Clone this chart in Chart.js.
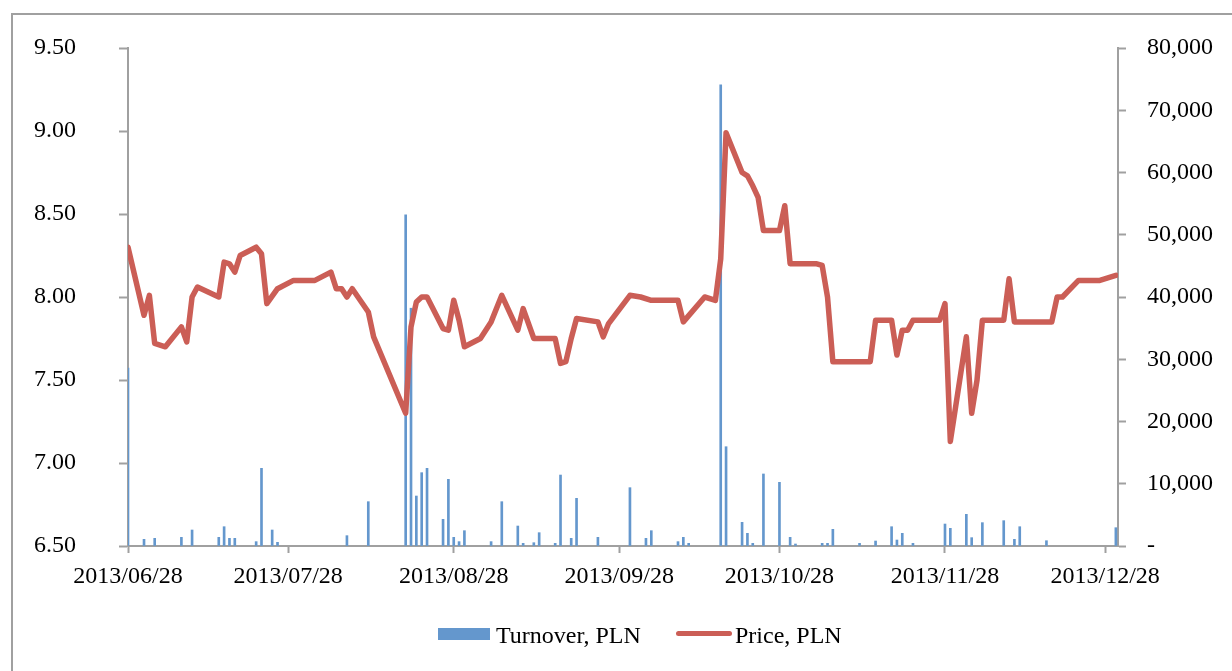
<!DOCTYPE html>
<html>
<head>
<meta charset="utf-8">
<script src="https://cdn.jsdelivr.net/npm/chart.js@4.4.1/dist/chart.umd.min.js"></script>
<style>
  html, body { margin: 0; padding: 0; background: #fff; overflow: hidden; }
  #wrap { position: relative; width: 1232px; height: 671px; }
  #frame { position: absolute; left: 11px; top: 13px; width: 1300px; height: 700px;
           border-left: 2px solid #a0a0a0; border-top: 2px solid #a0a0a0; }
  #chartBox { position: absolute; left: 0; top: 0; width: 1232px; height: 671px; }
  .legend { position: absolute; top: 620px; height: 30px; font: 24px "Liberation Serif", serif;
            color: #000; line-height: 30px; white-space: nowrap; }
  .swatch { position: absolute; }
</style>
</head>
<body>
<div id="wrap">
  <div id="frame"></div>
  <div id="chartBox"><canvas id="myChart"></canvas></div>
  <div class="swatch" style="left:438px; top:628px; width:52px; height:12px; background:#6497CD;"></div>
  <div class="legend" style="left:496px;">Turnover, PLN</div>
  <div class="swatch" style="left:676px; top:631px; width:56px; height:5px; border-radius:3px; background:#CB5E56;"></div>
  <div class="legend" style="left:735px;">Price, PLN</div>
</div>
<script>
'use strict';

//// data
const priceDates = [
  '2013-06-28', '2013-07-01', '2013-07-02', '2013-07-03', '2013-07-05', '2013-07-08', '2013-07-09',
  '2013-07-10', '2013-07-11', '2013-07-15', '2013-07-16', '2013-07-17', '2013-07-18', '2013-07-19',
  '2013-07-22', '2013-07-23', '2013-07-24', '2013-07-26', '2013-07-29', '2013-08-02', '2013-08-05',
  '2013-08-06', '2013-08-07', '2013-08-08', '2013-08-09', '2013-08-12', '2013-08-13', '2013-08-19',
  '2013-08-20', '2013-08-21', '2013-08-22', '2013-08-23', '2013-08-26', '2013-08-27', '2013-08-28',
  '2013-08-29', '2013-08-30', '2013-09-02', '2013-09-04', '2013-09-06', '2013-09-09', '2013-09-10',
  '2013-09-12', '2013-09-16', '2013-09-17', '2013-09-18', '2013-09-19', '2013-09-20', '2013-09-24',
  '2013-09-25', '2013-09-26', '2013-09-30', '2013-10-02', '2013-10-04', '2013-10-09', '2013-10-10',
  '2013-10-14', '2013-10-16', '2013-10-17', '2013-10-18', '2013-10-21', '2013-10-22', '2013-10-23',
  '2013-10-24', '2013-10-25', '2013-10-28', '2013-10-29', '2013-10-30', '2013-11-04', '2013-11-05',
  '2013-11-06', '2013-11-07', '2013-11-14', '2013-11-15', '2013-11-18', '2013-11-19', '2013-11-20',
  '2013-11-21', '2013-11-22', '2013-11-27', '2013-11-28', '2013-11-29', '2013-12-02', '2013-12-03',
  '2013-12-04', '2013-12-05', '2013-12-09', '2013-12-10', '2013-12-11', '2013-12-18', '2013-12-19',
  '2013-12-20', '2013-12-23', '2013-12-27', '2013-12-30'
];
const priceValues = [
  8.30, 7.89, 8.01, 7.72, 7.70, 7.82, 7.73,
  8.00, 8.06, 8.00, 8.21, 8.20, 8.15, 8.25,
  8.30, 8.26, 7.96, 8.05, 8.10, 8.10, 8.15,
  8.05, 8.05, 8.00, 8.05, 7.91, 7.76, 7.30,
  7.82, 7.97, 8.00, 8.00, 7.81, 7.80, 7.98,
  7.86, 7.70, 7.75, 7.85, 8.01, 7.80, 7.93,
  7.75, 7.75, 7.60, 7.61, 7.75, 7.87, 7.85,
  7.76, 7.84, 8.01, 8.00, 7.98, 7.98, 7.85,
  8.00, 7.98, 8.23, 8.99, 8.75, 8.73, 8.67,
  8.60, 8.40, 8.40, 8.55, 8.20, 8.20, 8.19,
  8.00, 7.61, 7.61, 7.86, 7.86, 7.65, 7.80,
  7.80, 7.86, 7.86, 7.96, 7.13, 7.76, 7.30,
  7.50, 7.86, 7.86, 8.11, 7.85, 7.85, 8.00,
  8.00, 8.10, 8.10, 8.13
];

const turnoverDates = [
  '2013-06-28', '2013-07-01', '2013-07-03', '2013-07-08', '2013-07-10', '2013-07-15', '2013-07-16',
  '2013-07-17', '2013-07-18', '2013-07-22', '2013-07-23', '2013-07-25', '2013-07-26', '2013-08-08',
  '2013-08-12', '2013-08-19', '2013-08-20', '2013-08-21', '2013-08-22', '2013-08-23', '2013-08-26',
  '2013-08-27', '2013-08-28', '2013-08-29', '2013-08-30', '2013-09-04', '2013-09-06', '2013-09-09',
  '2013-09-10', '2013-09-12', '2013-09-13', '2013-09-16', '2013-09-17', '2013-09-19', '2013-09-20',
  '2013-09-24', '2013-09-30', '2013-10-03', '2013-10-04', '2013-10-09', '2013-10-10', '2013-10-11',
  '2013-10-17', '2013-10-18', '2013-10-21', '2013-10-22', '2013-10-23', '2013-10-25', '2013-10-28',
  '2013-10-30', '2013-10-31', '2013-11-05', '2013-11-06', '2013-11-07', '2013-11-12', '2013-11-15',
  '2013-11-18', '2013-11-19', '2013-11-20', '2013-11-22', '2013-11-28', '2013-11-29', '2013-12-02',
  '2013-12-03', '2013-12-05', '2013-12-09', '2013-12-11', '2013-12-12', '2013-12-17', '2013-12-30'
];
const turnoverValues = [
  28600, 1070, 1230, 1390, 2570, 1390, 3100,
  1230, 1230, 700, 12480, 2570, 590, 1660,
  7120, 53200, 38200, 8030, 11780, 12480, 4280,
  10710, 1390, 700, 2460, 700, 7120, 3210,
  430, 530, 2140, 430, 11400, 1230, 7660,
  1390, 9370, 1230, 2460, 700, 1390, 430,
  74100, 15950, 3800, 2040, 430, 11570, 10230,
  1390, 320, 430, 430, 2680, 430, 800,
  3100, 960, 2040, 430, 3530, 2840, 5090,
  1340, 3750, 4070, 1070, 3100, 850, 2940
];

const xTickDates = ['2013-06-28', '2013-07-28', '2013-08-28', '2013-09-28', '2013-10-28', '2013-11-28', '2013-12-28'];
const priceTicks = [6.5, 7.0, 7.5, 8.0, 8.5, 9.0, 9.5];
const turnoverTicks = [0, 10000, 20000, 30000, 40000, 50000, 60000, 70000, 80000];

//// helpers
const startMs = Date.parse(xTickDates[0]);
const dayOf = (s) => Math.round((Date.parse(s) - startMs) / 86400000);
const xTickDays = xTickDates.map(dayOf);

const AXIS_GREY = '#a0a0a0';
const tickFont = { family: 'Liberation Serif', size: 24 };

// the big label padding on the side axes must not push the plot top down
const flatPadding = (scale) => { scale.paddingTop = 12; scale.paddingBottom = 12; };

const ctx = document.getElementById('myChart').getContext('2d');

const chart = new Chart(ctx, {
  type: 'bar',
  data: {
    datasets: [{
      type: 'line',
      label: 'Price, PLN',
      data: priceDates.map((d, i) => ({ x: dayOf(d), y: priceValues[i] })),
      yAxisID: 'yPrice',
      borderColor: '#CB5E56',
      backgroundColor: '#CB5E56',
      borderWidth: 5.5,
      pointRadius: 0,
      tension: 0,
      borderJoinStyle: 'round',
      borderCapStyle: 'round',
      order: 0
    }, {
      type: 'bar',
      label: 'Turnover, PLN',
      data: turnoverDates.map((d, i) => ({ x: dayOf(d), y: turnoverValues[i] })),
      yAxisID: 'yTurn',
      backgroundColor: '#6497CD',
      borderWidth: 0,
      barThickness: 2,
      grouped: false,
      order: 1
    }]
  },
  options: {
    responsive: true,
    maintainAspectRatio: false,
    animation: false,
    devicePixelRatio: 1,
    layout: { padding: { top: 48, left: 0, right: 0, bottom: 0 } },
    plugins: {
      legend: { display: false },
      tooltip: { enabled: false }
    },
    scales: {
      x: {
        type: 'linear',
        min: 0,
        max: 185.4,
        offset: false,
        grid: { display: true, drawOnChartArea: false, offset: false, tickLength: 7, tickColor: AXIS_GREY, tickWidth: 2 },
        border: { display: true, color: AXIS_GREY, width: 2 },
        afterBuildTicks: (axis) => { axis.ticks = xTickDays.map(v => ({ value: v })); },
        ticks: {
          autoSkip: false,
          maxRotation: 0,
          padding: 9,
          color: '#000',
          font: tickFont,
          callback: (v) => {
            const i = xTickDays.indexOf(v);
            return i >= 0 ? xTickDates[i].replace(/-/g, '/') : '';
          }
        },
        afterFit: (scale) => { scale.height = 671 - 546; }
      },
      yPrice: {
        type: 'linear',
        position: 'left',
        min: 6.5,
        max: 9.5,
        grid: { display: true, drawOnChartArea: false, tickLength: 9, tickColor: AXIS_GREY, tickWidth: 2 },
        border: { display: true, color: AXIS_GREY, width: 2 },
        afterBuildTicks: (axis) => { axis.ticks = priceTicks.map(v => ({ value: v })); },
        ticks: {
          padding: 43,
          color: '#000',
          font: tickFont,
          callback: (v) => Number(v).toFixed(2)
        },
        afterFit: (scale) => { scale.width = 128; flatPadding(scale); }
      },
      yTurn: {
        type: 'linear',
        position: 'right',
        min: 0,
        max: 80000,
        grid: { display: true, drawOnChartArea: false, tickLength: 8, tickColor: AXIS_GREY, tickWidth: 2 },
        border: { display: true, color: AXIS_GREY, width: 2 },
        afterBuildTicks: (axis) => { axis.ticks = turnoverTicks.map(v => ({ value: v })); },
        ticks: {
          padding: 21,
          color: '#000',
          font: tickFont,
          callback: (v) => v === 0 ? '-' : Number(v).toLocaleString('en-US')
        },
        afterFit: (scale) => { scale.width = 1232 - 1118; flatPadding(scale); }
      }
    }
  }
});
</script>
</body>
</html>
